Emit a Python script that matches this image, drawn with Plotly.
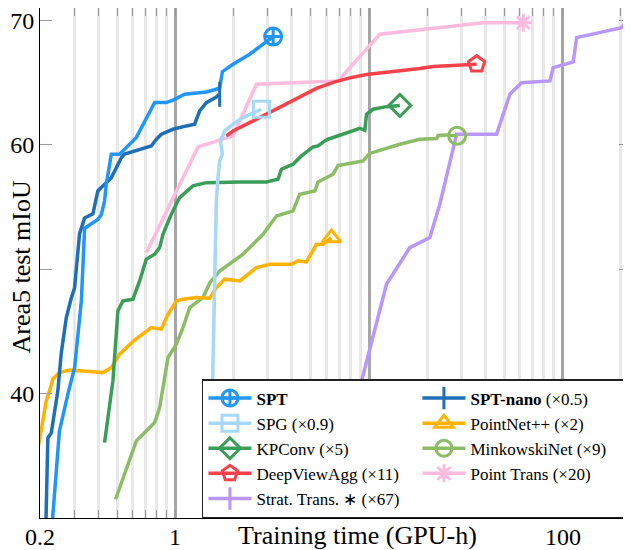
import math
import plotly.graph_objects as go

FONT = "Liberation Serif"

# ---------------- data ----------------
spt_x = [0.231, 0.252, 0.279, 0.302, 0.327, 0.340, 0.398, 0.415, 0.431, 0.440, 0.467, 0.515, 0.629,
         0.737, 0.782, 0.899, 0.972, 1.117, 1.446, 1.628, 1.694, 1.750, 1.985, 2.42, 3.20]
spt_y = [29.5, 37.0, 40.0, 42.1, 47.45, 53.3, 54.0, 54.4, 55.5, 56.86, 59.25, 59.25, 60.6,
         62.73, 63.4, 63.4, 63.6, 64.07, 64.25, 64.47, 64.6, 65.88, 66.48, 67.28, 68.7]

nano_x = [0.2145, 0.2196, 0.2287, 0.2377, 0.2473, 0.2576, 0.2734, 0.2901, 0.3017, 0.3201, 0.3398,
          0.3752, 0.398, 0.4224, 0.467, 0.526, 0.547, 0.751, 0.798, 0.847, 0.972, 1.14, 1.258,
          1.335, 1.446, 1.628, 1.694]
nano_y = [29.5, 36.44, 36.84, 38.37, 40.22, 43.27, 46.09, 47.69, 48.50, 52.84, 54.12,
          54.45, 56.29, 56.70, 57.36, 58.97, 59.25, 59.91, 60.45, 60.85, 61.25, 61.52, 61.66,
          62.73, 63.39, 63.85, 64.07]

spg_x = [1.504, 1.553, 1.596, 1.628, 1.660, 1.694, 1.750, 1.708, 1.798, 1.985, 2.236, 2.782]
spg_y = [29.5, 41.02, 49.06, 55.49, 57.36, 58.71, 59.24, 60.31, 61.12, 61.66, 62.19, 62.86]

kp_x = [0.431, 0.476, 0.505, 0.536, 0.604, 0.654, 0.708, 0.782, 0.830, 0.863, 0.953, 1.052, 1.233,
        1.446, 2.149, 2.953, 3.390, 3.530, 4.053, 4.479, 5.141, 5.457, 5.909, 6.146, 7.066, 8.277,
        8.964, 9.513, 9.707, 10.50, 12.31, 14.43]
kp_y = [36.06, 41.02, 46.65, 47.45, 47.59, 49.06, 50.80, 51.2, 51.74, 52.81, 54.42, 55.76, 56.70,
        56.96, 57.02, 57.02, 57.23, 58.04, 58.44, 59.11, 59.83, 59.91, 60.31, 60.45, 60.77, 61.12,
        61.33, 61.17, 62.46, 62.86, 63.07, 63.17]

dva_x = [1.835, 1.985, 2.421, 2.953, 3.598, 4.389, 5.354, 6.525, 7.96, 9.707, 12.31, 14.43, 18.30,
         21.45, 31.9, 35.94]
dva_y = [60.72, 61.12, 61.78, 62.46, 63.13, 63.79, 64.53, 65.02, 65.38, 65.66, 65.82, 65.94, 66.14,
         66.30, 66.47, 66.48]

pt_x = [0.708, 1.309, 1.985, 2.623, 6.924, 11.37, 38.9, 62.6]
pt_y = [51.33, 59.83, 60.72, 64.87, 65.14, 68.89, 69.82, 69.82]

pn_x = [0.19, 0.2154, 0.2241, 0.2331, 0.2523, 0.2843, 0.3331, 0.4224, 0.467, 0.5155, 0.6088, 0.751,
        0.8466, 0.9126, 1.012, 1.095, 1.284, 1.504, 1.628, 1.798, 2.149, 2.623, 3.072, 3.977, 4.302,
        4.753, 5.354, 5.79, 6.40]
pn_y = [34.5, 39.41, 40.22, 41.18, 41.69, 41.90, 41.82, 41.69, 42.09, 43.17, 44.24, 45.31,
        45.18, 46.33, 47.45, 47.59, 47.72, 47.67, 48.50, 49.20, 49.06, 50.13, 50.40, 50.40, 50.67,
        50.59, 52.01, 52.01, 52.52]

mk_x = [0.4914, 0.6287, 0.708, 0.782, 0.8297, 0.9158, 1.012, 1.095, 1.186, 1.284, 1.389, 1.504,
        1.694, 2.236, 2.836, 3.327, 4.053, 4.389, 5.248, 5.457, 6.525, 6.924, 8.618, 9.322, 10.09,
        11.83, 14.43, 18.30, 22.33, 22.76, 25.15, 28.53]
mk_y = [31.51, 36.2, 37.0, 37.67, 38.87, 42.89, 43.97, 45.31, 46.91, 47.32, 47.72, 48.90,
        49.86, 51.21, 52.81, 54.28, 54.69, 56.03, 56.29, 57.02, 57.64, 58.34, 58.57, 58.71, 59.31,
        59.65, 60.05, 60.45, 60.51, 60.76, 60.80, 60.72]

st_x = [5.91, 8.964, 10.09, 12.31, 16.25, 20.62, 23.22, 27.21, 28.33, 45.6, 53.4, 61.4, 86.0, 89.4,
        113.4, 118.1, 201.8, 214.2, 218.3]
st_y = [29.5, 40.54, 43.43, 48.79, 51.74, 52.54, 55.23, 59.51, 60.85, 60.85, 64.07, 65.0, 65.14,
        66.21, 66.66, 68.62, 69.42, 69.96, 70.8]

x_tick_vals = [0.2, 1, 10, 100]
x_tick_text = ["0.2", "1", "", "100"]
x_minor_vals = [0.3, 0.4, 0.5, 0.6, 0.7, 0.8, 0.9, 2, 3, 4, 5, 6, 7, 8, 9,
                20, 30, 40, 50, 60, 70, 80, 90, 200]
y_tick_vals = [40, 50, 60, 70]
y_tick_text = ["40", "", "60", "70"]

# name, x, y, colour, symbol, size, legend rank
series = [
    ("Strat. Trans. ∗ (×67)", st_x, st_y, "#b996fa", "line-ns", 18, 9),
    ("Point Trans (×20)", pt_x, pt_y, "#ffbbdd", "asterisk-open", 15, 8),
    ("MinkowskiNet (×9)", mk_x, mk_y, "#8cbd66", "circle-open", 17, 6),
    ("PointNet++ (×2)", pn_x, pn_y, "#ffb300", "triangle-up-open", 16, 4),
    ("KPConv (×5)", kp_x, kp_y, "#3a9d58", "diamond-open", 17, 5),
    ("DeepViewAgg (×11)", dva_x, dva_y, "#f5424a", "pentagon-open", 17, 7),
    ("SPG (×0.9)", spg_x, spg_y, "#a6d8f7", "square-open", 16, 3),
    ("<b>SPT-nano</b> (×0.5)", nano_x, nano_y, "#1f6fb4", "line-ns", 18, 2),
    ("<b>SPT</b>", spt_x, spt_y, "#2196f3", "circle-cross-open", 17, 1),
]

LW = 3.5
fig = go.Figure()
for name, xs, ys, col, sym, sz, rk in series:
    fig.add_trace(go.Scatter(x=xs, y=ys, mode="lines", line=dict(color=col, width=LW),
                             showlegend=False, hoverinfo="skip"))
for name, xs, ys, col, sym, sz, rk in series:
    fig.add_trace(go.Scatter(x=[xs[-1]], y=[ys[-1]], mode="lines+markers", name=name,
                             line=dict(color=col, width=LW),
                             marker=dict(symbol=sym, size=sz, color=col,
                                         line=dict(color=col, width=3)),
                             legendrank=rk, hoverinfo="skip"))

X_RANGE = [math.log10(0.2), 2.353]

# x tick labels as annotations (paper coords derived from the axis range)
tick_annots = [
    dict(text=t, xref="paper", yref="paper",
         x=(math.log10(v) - X_RANGE[0]) / (X_RANGE[1] - X_RANGE[0]), y=-0.0373,
         xanchor="center", yanchor="middle", showarrow=False,
         font=dict(family=FONT, size=24, color="black"))
    for v, t in zip(x_tick_vals, x_tick_text) if t
]

# the page body adds an 8 px offset, so the figure is 8 px smaller than the window
fig.update_layout(
    width=623, height=542,
    margin=dict(l=32, r=0, t=0, b=32, autoexpand=False),
    paper_bgcolor="white", plot_bgcolor="white",
    font=dict(family=FONT, color="black"),
    showlegend=True,
    legend=dict(orientation="h", x=0.274, y=0.0, xanchor="left", yanchor="bottom",
                bgcolor="white", bordercolor="#222", borderwidth=1.5,
                font=dict(family=FONT, size=17, color="black"),
                entrywidth=156, entrywidthmode="pixels", itemwidth=43,
                traceorder="normal"),
    xaxis=dict(type="log", range=X_RANGE, automargin=False,
               tickvals=x_tick_vals, showticklabels=False,
               ticks="inside", ticklen=8, tickcolor="#999", tickwidth=1,
               showgrid=True, gridcolor="#a6a6a6", gridwidth=3,
               showline=True, linecolor="black", linewidth=1, mirror="allticks",
               minor=dict(tickvals=x_minor_vals, ticks="inside", ticklen=8, tickcolor="#999",
                          showgrid=True, gridcolor="#e8e8e8", gridwidth=2.5),
               zeroline=False),
    yaxis=dict(range=[30, 71], tickvals=y_tick_vals, ticktext=y_tick_text, automargin=False,
               ticklabeloverflow="allow",
               ticks="inside", ticklen=12, tickcolor="#999", tickwidth=1,
               showgrid=False, showline=True, linecolor="black", linewidth=1,
               mirror="allticks", tickfont=dict(family=FONT, size=24, color="black"),
               zeroline=False),
    annotations=tick_annots + [
        dict(text="Training time (GPU-h)", xref="paper", yref="paper", x=0.538, y=-0.035,
             xanchor="center", yanchor="middle", showarrow=False,
             font=dict(family=FONT, size=26, color="black")),
        dict(text="Area5 test mIoU", xref="paper", yref="paper", x=-0.0305, y=0.493,
             xanchor="center", yanchor="middle", textangle=-90, showarrow=False,
             font=dict(family=FONT, size=26, color="black")),
    ],
)

fig.write_html("out.html")
